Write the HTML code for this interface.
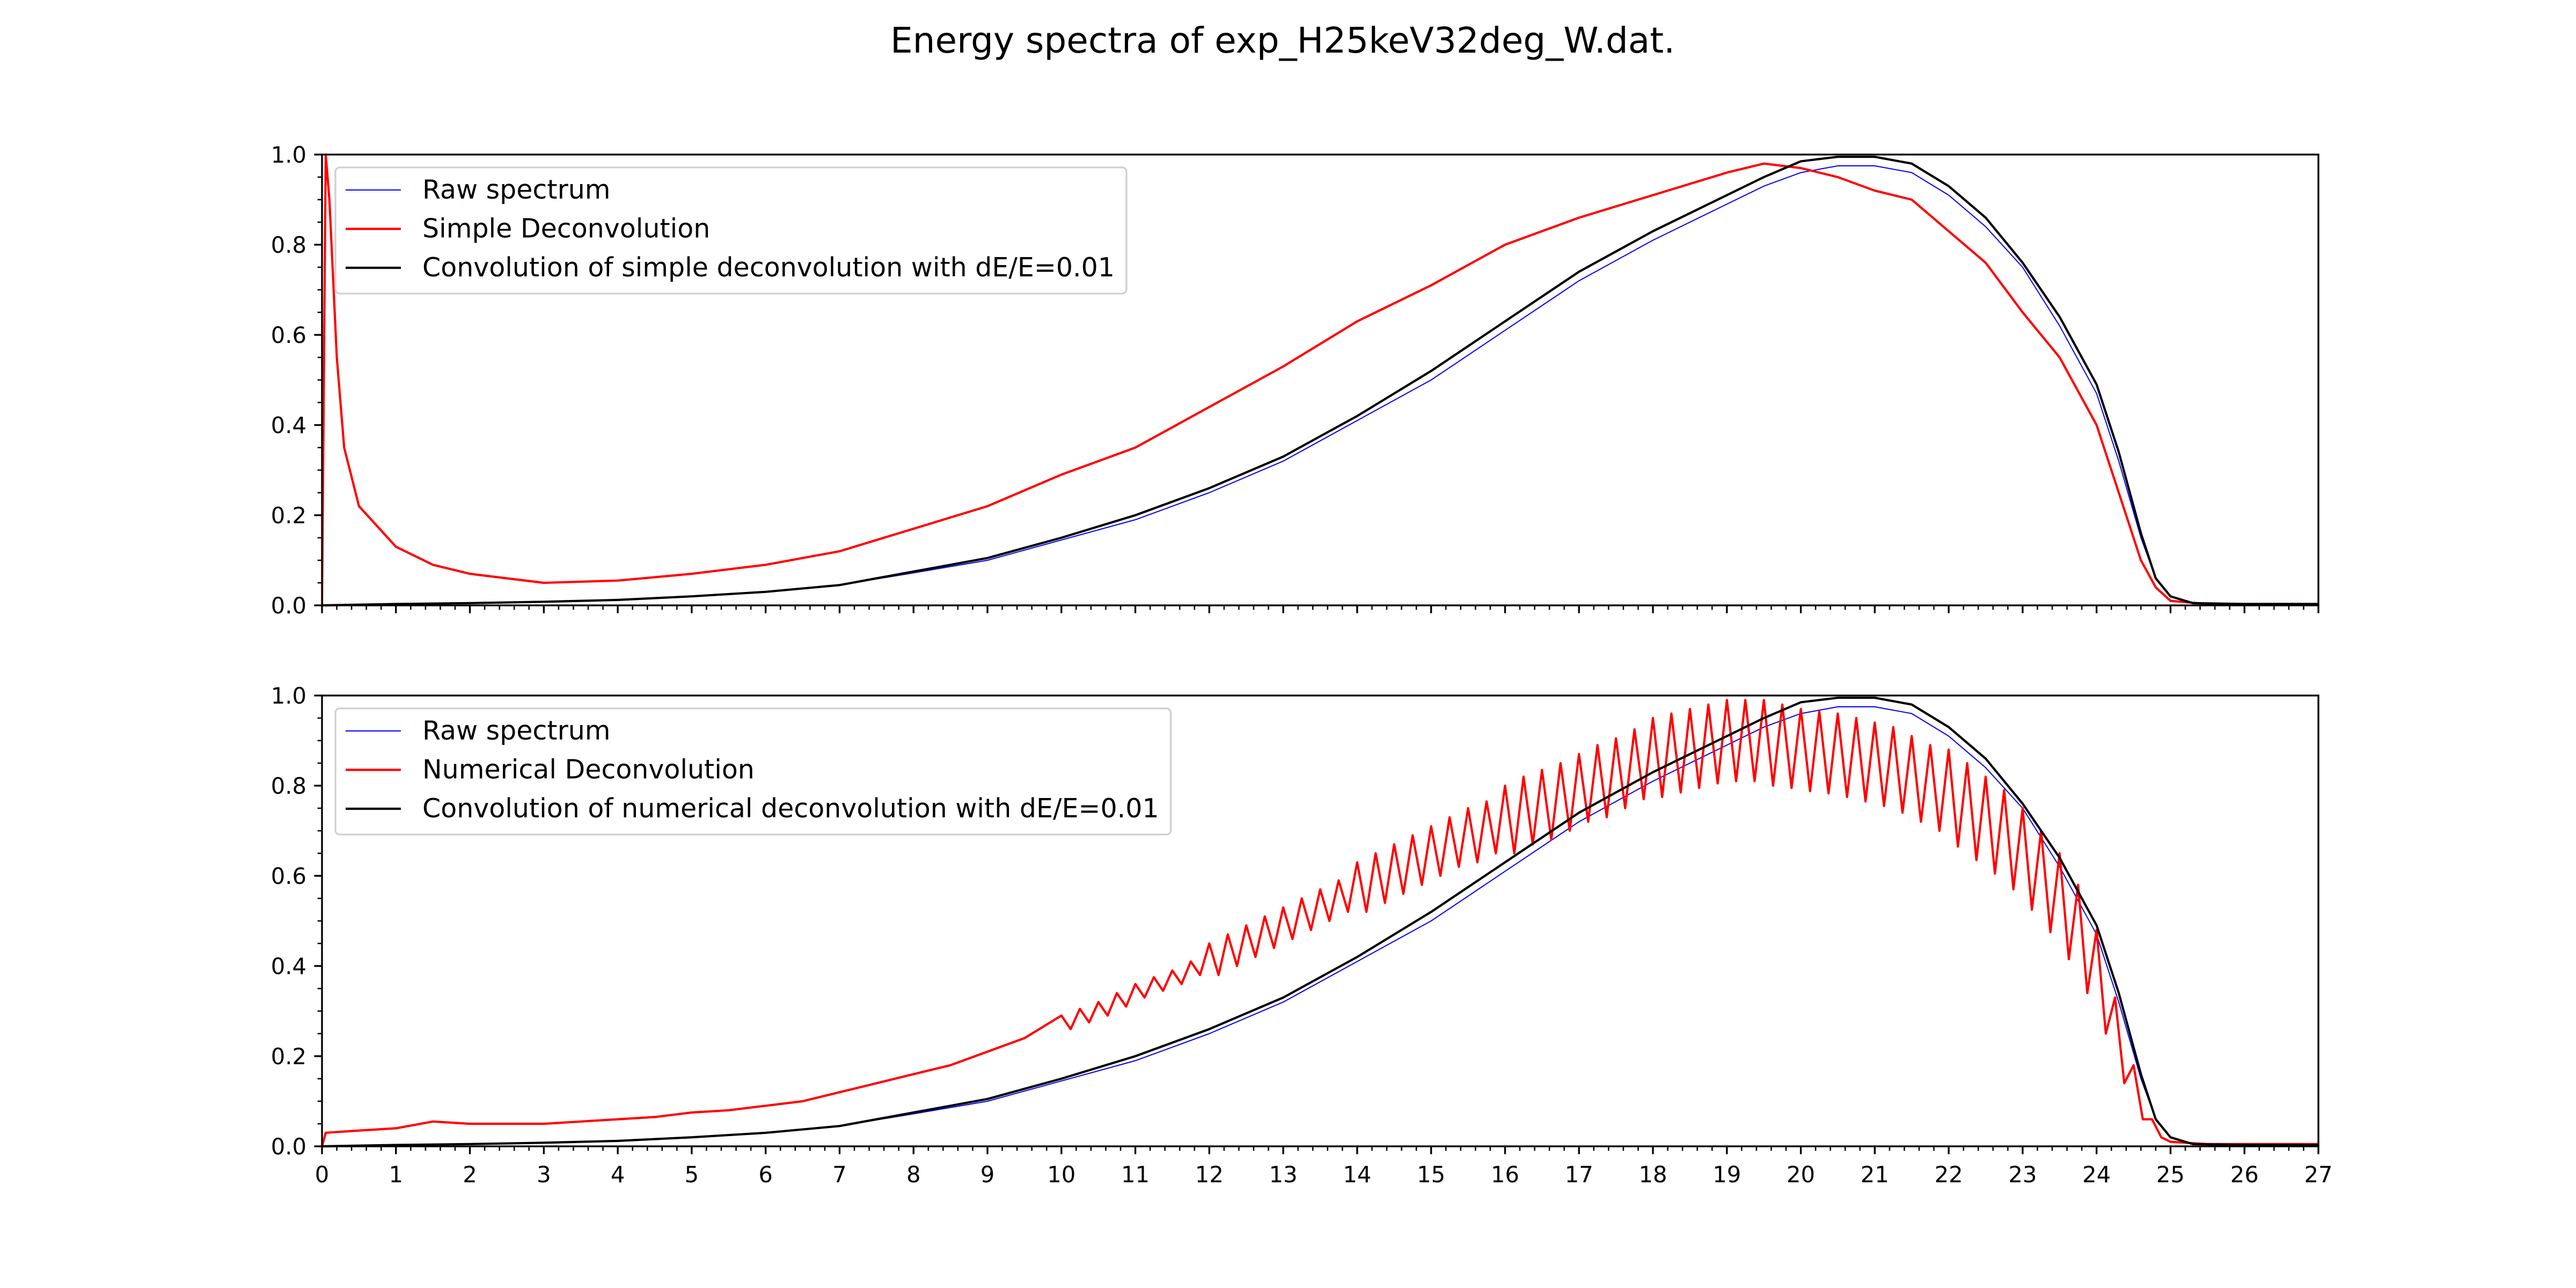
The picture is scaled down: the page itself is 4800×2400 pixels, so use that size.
<!DOCTYPE html>
<html><head><meta charset="utf-8">
<style>
html,body{margin:0;padding:0;background:#fff;}
svg{display:block;font-family:"DejaVu Sans","Liberation Sans",sans-serif;}
</style></head>
<body>
<svg id="fig" xmlns="http://www.w3.org/2000/svg" width="4800" height="2400" viewBox="0 0 4800 2400">
<rect width="4800" height="2400" fill="#fff"/>
<text x="2390" y="98" font-size="66" text-anchor="middle" font-family="DejaVu Sans, Liberation Sans, sans-serif">Energy spectra of exp_H25keV32deg_W.dat.</text>
</svg>
<script>
// ---- data ----
const rawE = [0,1,2,3,4,5,6,7,8,9,10,11,12,13,14,15,16,17,18,19,19.5,20,20.5,21,21.5,22,22.5,23,23.5,24,24.3,24.6,24.8,25,25.3,26,27];
const rawV = [0,0.003,0.005,0.008,0.012,0.02,0.03,0.045,0.072,0.1,0.145,0.19,0.25,0.32,0.41,0.5,0.61,0.72,0.81,0.89,0.93,0.96,0.975,0.975,0.96,0.91,0.84,0.75,0.62,0.47,0.32,0.15,0.06,0.02,0.005,0.003,0.003];
const convE = [0,1,2,3,4,5,6,7,8,9,10,11,12,13,14,15,16,17,18,19,19.5,20,20.5,21,21.5,22,22.5,23,23.5,24,24.3,24.6,24.8,25,25.3,26,27];
const convV = [0,0.003,0.005,0.008,0.012,0.02,0.03,0.045,0.075,0.105,0.15,0.2,0.26,0.33,0.42,0.52,0.63,0.74,0.83,0.91,0.95,0.985,0.995,0.995,0.98,0.93,0.86,0.76,0.64,0.49,0.34,0.16,0.06,0.02,0.005,0.003,0.003];
const simpleE = [0,0.05,0.1,0.2,0.3,0.5,1,1.5,2,3,4,5,6,7,8,9,10,11,12,13,14,15,16,17,18,19,19.5,20,20.5,21,21.5,22,22.5,23,23.5,24,24.3,24.6,24.8,25,25.5,27];
const simpleV = [0,1.0,0.9,0.55,0.35,0.22,0.13,0.09,0.07,0.05,0.055,0.07,0.09,0.12,0.17,0.22,0.29,0.35,0.44,0.53,0.63,0.71,0.8,0.86,0.91,0.96,0.98,0.97,0.95,0.92,0.9,0.83,0.76,0.65,0.55,0.4,0.25,0.1,0.04,0.01,0.003,0.003];
const numLowE = [0,0.05,0.5,1,1.5,2,2.5,3,3.5,4,4.5,5,5.5,6,6.5,7,7.5,8,8.5,9,9.5];
const numLowV = [0,0.03,0.035,0.04,0.055,0.05,0.05,0.05,0.055,0.06,0.065,0.075,0.08,0.09,0.1,0.12,0.14,0.16,0.18,0.21,0.24];
const numHiStart = 10, numHiStep = 0.125;
const numHiV = [.29,.26,.305,.275,.32,.29,.34,.31,.36,.33,.375,.345,.39,.36,.41,.38,
.45,.38,.47,.40,.49,.42,.51,.44,.53,.46,.55,.48,.57,.50,.59,.52,
.63,.52,.65,.54,.67,.56,.69,.58,.71,.60,.73,.62,.75,.63,.765,.65,
.80,.65,.82,.67,.835,.68,.85,.70,.87,.72,.89,.73,.905,.75,.925,.77,
.95,.775,.96,.785,.97,.795,.98,.805,.99,.81,.99,.81,.99,.80,.98,.795,
.97,.788,.965,.783,.96,.775,.95,.765,.94,.755,.93,.74,.91,.72,.89,.70,
.88,.665,.85,.635,.82,.605,.79,.57,.75,.525,.70,.475,.65,.415,.58,.34,
.48,.25,.33,.14,.18,.06,.06,.02,.01];
const numTailE = [25.5,26,27];
const numTailV = [0.005,0.005,0.005];
const xTicks = [0,1,2,3,4,5,6,7,8,9,10,11,12,13,14,15,16,17,18,19,20,21,22,23,24,25,26,27];
const yTicks = [0.0,0.2,0.4,0.6,0.8,1.0];

// ---- layout ----
const NS = "http://www.w3.org/2000/svg";
const svg = document.getElementById('fig');
const L = 600, R = 4320, AX = [{top:288,bot:1128},{top:1296,bot:2136}];
const xs = e => L + (e/27)*(R-L);
function mk(tag, attrs, parent){ const el=document.createElementNS(NS,tag); for(const k in attrs) el.setAttribute(k,attrs[k]); (parent||svg).appendChild(el); return el; }
function line(ax, E, V, color, w, name, g){
  const ys = v => ax.bot - v*(ax.bot-ax.top);
  const pts = E.map((e,i)=>xs(e).toFixed(1)+','+ys(V[i]).toFixed(1)).join(' ');
  const p = mk('polyline',{points:pts,fill:'none',stroke:color,'stroke-width':w,'stroke-linejoin':'round'},g);
  
  
}
const numE = [], numV = [];
numLowE.forEach((e,i)=>{numE.push(e);numV.push(numLowV[i]);});
numHiV.forEach((v,i)=>{numE.push(numHiStart+i*numHiStep);numV.push(v);});
numTailE.forEach((e,i)=>{numE.push(e);numV.push(numTailV[i]);});

const legends = [
  ['Raw spectrum','Simple Deconvolution','Convolution of simple deconvolution with dE/E=0.01'],
  ['Raw spectrum','Numerical Deconvolution','Convolution of numerical deconvolution with dE/E=0.01']
];

AX.forEach((ax, k) => {
  const g = mk('g',{});
  
  
  const clipId = 'clip'+k;
  const cp = mk('clipPath',{id:clipId},g);
  mk('rect',{x:L,y:ax.top-3,width:R-L,height:ax.bot-ax.top+6},cp);
  const sg = mk('g',{'clip-path':'url(#'+clipId+')'},g);
  line(ax, rawE, rawV, '#0000ff', 2, 'raw-spectrum-line', sg);
  if(k===0){
    line(ax, simpleE, simpleV, '#ff0000', 4.2, 'simple-deconvolution-line', sg);
    line(ax, convE, convV, '#000000', 4.2, 'convolution-line', sg);
  } else {
    line(ax, numE, numV, '#ff0000', 4.2, 'numerical-deconvolution-line', sg);
    line(ax, convE, convV, '#000000', 4.2, 'convolution-line', sg);
  }
  const fr = mk('rect',{x:L,y:ax.top,width:R-L,height:ax.bot-ax.top,fill:'none',stroke:'#000','stroke-width':3.33},g);
  
  
  for(let m=0;m<=135;m++){
    const e=m*0.2, x=xs(e), major = (m%5===0);
    mk('line',{x1:x,x2:x,y1:ax.bot,y2:ax.bot+(major?14.6:8.3),stroke:'#000','stroke-width':major?3.33:2.5},g);
  }
  if(k===1){
    xTicks.forEach(t=>{
      const tx = mk('text',{x:xs(t),y:ax.bot+29+38,'font-size':41.7,'text-anchor':'middle','font-family':'DejaVu Sans, Liberation Sans, sans-serif'},g);
      tx.textContent = String(t);
      
      
    });
  }
  const ys = v => ax.bot - v*(ax.bot-ax.top);
  for(let m=0;m<=20;m++){
    const v=m*0.05, y=ys(v), major=(m%4===0);
    mk('line',{x1:L,x2:L-(major?14.6:8.3),y1:y,y2:y,stroke:'#000','stroke-width':major?3.33:2.5},g);
  }
  yTicks.forEach(t=>{
    const tx = mk('text',{x:L-29,y:ys(t)+15,'font-size':41.7,'text-anchor':'end','font-family':'DejaVu Sans, Liberation Sans, sans-serif'},g);
    tx.textContent = t.toFixed(1);
    
    
  });
  const lg = mk('g',{},g);
  
  
  const box = mk('rect',{x:625,y:ax.top+24,width:1496,height:235,rx:8,fill:'#fff','fill-opacity':0.8,stroke:'#d0d0d0','stroke-width':3.33},lg);
  const colors=['#0000ff','#ff0000','#000000'], widths=[2,4.2,4.2];
  let maxW=0;
  legends[k].forEach((lab,i)=>{
    const y = ax.top + 66 + i*72.5;
    const le = mk('line',{x1:644,x2:747,y1:y,y2:y,stroke:colors[i],'stroke-width':widths[i]},lg);
    
    
    const tx = mk('text',{x:787,y:y+16,'font-size':49,'font-family':'DejaVu Sans, Liberation Sans, sans-serif'},lg);
    tx.textContent = lab;
    
    
    try{ maxW=Math.max(maxW, tx.getComputedTextLength()); }catch(e){}
  });
  if(maxW>0) box.setAttribute('width', (787+maxW+22)-625);
});
</script>
</body></html>
